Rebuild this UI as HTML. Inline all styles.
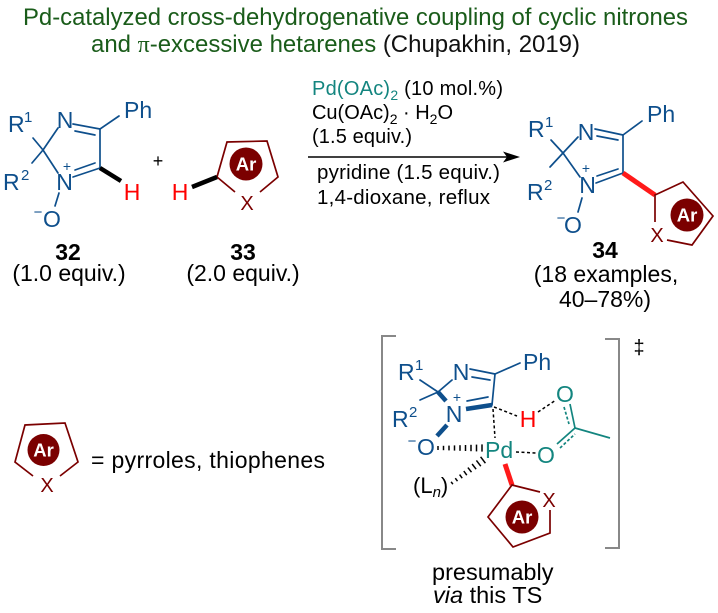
<!DOCTYPE html>
<html><head><meta charset="utf-8"><style>
body{margin:0;background:#fff}
svg{display:block}
text{font-family:"Liberation Sans",Arial,sans-serif}
</style></head><body>
<svg width="718" height="613" viewBox="0 0 718 613" xmlns="http://www.w3.org/2000/svg">
<!-- Title -->
<text x="23" y="25" font-size="24" fill="#1a5c1a" textLength="665" lengthAdjust="spacingAndGlyphs">Pd-catalyzed cross-dehydrogenative coupling of cyclic nitrones</text>
<text x="91" y="52" font-size="24" textLength="489" lengthAdjust="spacingAndGlyphs"><tspan fill="#1a5c1a">and </tspan><tspan fill="#1a5c1a" font-family="Liberation Serif">π</tspan><tspan fill="#1a5c1a">-excessive hetarenes </tspan><tspan fill="#111">(Chupakhin, 2019)</tspan></text>

<!-- Structure 32 -->
<g stroke="#0e4f8c" stroke-width="1.7" fill="none" stroke-linecap="round">
<line x1="43" y1="150" x2="58" y2="128"/>
<line x1="73" y1="124" x2="100" y2="129"/>
<line x1="75" y1="131" x2="95" y2="135"/>
<line x1="100" y1="129" x2="100" y2="168"/>
<line x1="73" y1="177" x2="100" y2="168"/>
<line x1="75" y1="170" x2="95" y2="163"/>
<line x1="58" y1="173" x2="43" y2="150"/>
<line x1="43" y1="150" x2="33" y2="138"/>
<line x1="43" y1="150" x2="32" y2="163"/>
<line x1="100" y1="129" x2="119" y2="116"/>
<line x1="59" y1="193" x2="55" y2="206"/>
</g>
<line x1="100" y1="168" x2="121" y2="181" stroke="#000" stroke-width="4.5"/>
<g fill="#0e4f8c" font-size="23">
<text x="8" y="132">R</text><text x="24" y="122" font-size="15">1</text>
<text x="3" y="190">R</text><text x="21" y="180" font-size="15">2</text>
<text x="65" y="128" text-anchor="middle">N</text>
<text x="124" y="118">Ph</text>
<text x="64.5" y="190" text-anchor="middle">N</text>
<text x="67" y="171" font-size="14" text-anchor="middle">+</text>
<text x="52" y="227" text-anchor="middle">O</text>
<text x="38" y="217" font-size="15" text-anchor="middle">−</text>
</g>
<text x="132" y="200" text-anchor="middle" fill="#ff0000" font-size="23">H</text>
<text x="158" y="167" text-anchor="middle" font-size="18">+</text>

<!-- Structure 33 -->
<path d="M235,192 L217,177 L227,142 L267,141 L278,177 L260,192" stroke="#7b0000" stroke-width="1.7" fill="none"/>
<circle cx="246" cy="164" r="16.5" fill="#7b0000"/>
<text x="246" y="170.5" text-anchor="middle" fill="#fff" font-size="18.5" font-weight="bold">Ar</text>
<text x="247" y="210" text-anchor="middle" fill="#7b0000" font-size="20">X</text>
<text x="180" y="200" text-anchor="middle" fill="#ff0000" font-size="23">H</text>
<line x1="192" y1="187" x2="217" y2="177" stroke="#000" stroke-width="4.5"/>

<text x="68" y="260" text-anchor="middle" font-weight="bold" font-size="23">32</text>
<text x="69" y="281" text-anchor="middle" font-size="23">(1.0 equiv.)</text>
<text x="243" y="260" text-anchor="middle" font-weight="bold" font-size="23">33</text>
<text x="243" y="281" text-anchor="middle" font-size="23">(2.0 equiv.)</text>

<!-- Conditions -->
<text x="312" y="95" font-size="20" textLength="191"><tspan fill="#13857f">Pd(OAc)</tspan><tspan fill="#13857f" font-size="14" dy="5">2</tspan><tspan dy="-5"> (10 mol.%)</tspan></text>
<text x="312" y="119" font-size="20" textLength="141">Cu(OAc)<tspan font-size="14" dy="5">2</tspan><tspan dy="-5"> · H</tspan><tspan font-size="14" dy="5">2</tspan><tspan dy="-5">O</tspan></text>
<text x="312" y="143" font-size="20" textLength="100">(1.5 equiv.)</text>
<line x1="308" y1="157" x2="508" y2="157" stroke="#000" stroke-width="1.4"/>
<polygon points="520,157 503,151.5 507,157 503,162.5" fill="#000"/>
<text x="317" y="179" font-size="20.5" textLength="183">pyridine (1.5 equiv.)</text>
<text x="317" y="204" font-size="20.5" textLength="173">1,4-dioxane, reflux</text>

<!-- Product 34 -->
<g stroke="#0e4f8c" stroke-width="1.7" fill="none" stroke-linecap="round">
<line x1="563" y1="153" x2="578" y2="137"/>
<line x1="595" y1="129" x2="623" y2="135"/>
<line x1="597" y1="136" x2="618" y2="140"/>
<line x1="623" y1="135" x2="623" y2="173"/>
<line x1="596" y1="183" x2="623" y2="173"/>
<line x1="597" y1="176" x2="618" y2="169"/>
<line x1="580" y1="177" x2="563" y2="153"/>
<line x1="563" y1="153" x2="551" y2="140"/>
<line x1="563" y1="153" x2="550" y2="167"/>
<line x1="623" y1="135" x2="642" y2="121"/>
<line x1="582" y1="198" x2="578" y2="212"/>
</g>
<line x1="623" y1="173" x2="655" y2="195" stroke="#ff1a1a" stroke-width="5"/>
<path d="M655,222 L655,195 L683,182 L713,216 L692,245 L667,240" stroke="#7b0000" stroke-width="1.7" fill="none"/>
<circle cx="687" cy="215" r="16.5" fill="#7b0000"/>
<text x="687" y="221.5" text-anchor="middle" fill="#fff" font-size="18.5" font-weight="bold">Ar</text>
<text x="657" y="242" text-anchor="middle" fill="#7b0000" font-size="20">X</text>
<g fill="#0e4f8c" font-size="23">
<text x="528" y="137">R</text><text x="545" y="127" font-size="15">1</text>
<text x="527" y="200">R</text><text x="544" y="190" font-size="15">2</text>
<text x="586" y="140" text-anchor="middle">N</text>
<text x="647" y="122">Ph</text>
<text x="587.5" y="193" text-anchor="middle">N</text>
<text x="586" y="173" font-size="14" text-anchor="middle">+</text>
<text x="573" y="233" text-anchor="middle">O</text>
<text x="561" y="223" font-size="15" text-anchor="middle">−</text>
</g>
<text x="605" y="258" text-anchor="middle" font-weight="bold" font-size="23">34</text>
<text x="606" y="282" text-anchor="middle" font-size="23">(18 examples,</text>
<text x="605" y="307" text-anchor="middle" font-size="23">40–78%)</text>

<!-- Legend -->
<path d="M33,476 L15,462 L25,425 L65,423 L78,462 L60,476" stroke="#7b0000" stroke-width="1.7" fill="none"/>
<circle cx="43.5" cy="450" r="16" fill="#7b0000"/>
<text x="43.5" y="456.5" text-anchor="middle" fill="#fff" font-size="18.5" font-weight="bold">Ar</text>
<text x="47" y="492" text-anchor="middle" fill="#7b0000" font-size="20">X</text>
<text x="91" y="468" font-size="23" textLength="234">= pyrroles, thiophenes</text>

<!-- TS brackets -->
<path d="M396,336 L382,336 L382,549 L396,549" stroke="#888" stroke-width="2" fill="none"/>
<path d="M605,339 L619,339 L619,548 L605,548" stroke="#888" stroke-width="2" fill="none"/>
<text x="639" y="354" text-anchor="middle" font-size="20">‡</text>

<!-- TS ring -->
<g stroke="#0e4f8c" stroke-width="1.7" fill="none" stroke-linecap="round">
<line x1="420" y1="380" x2="438" y2="392"/>
<line x1="438" y1="392" x2="420" y2="400"/>
<line x1="438" y1="392" x2="452" y2="380"/>
<line x1="470" y1="369" x2="495" y2="374"/>
<line x1="472" y1="377" x2="490" y2="380"/>
<line x1="495" y1="374" x2="492" y2="405"/>
<line x1="495" y1="374" x2="520" y2="363"/>
<line x1="467" y1="401" x2="488" y2="397"/>
</g>
<g stroke="#0e4f8c" stroke-width="4.5" stroke-linecap="butt">
<line x1="438" y1="392" x2="446" y2="401"/>
<line x1="466" y1="409" x2="492" y2="405"/>
<line x1="447" y1="425" x2="437" y2="436"/>
</g>
<g fill="#0e4f8c" font-size="23">
<text x="398" y="380">R</text><text x="415" y="370" font-size="15">1</text>
<text x="392" y="427">R</text><text x="409" y="417" font-size="15">2</text>
<text x="461" y="380" text-anchor="middle">N</text>
<text x="523" y="370">Ph</text>
<text x="454" y="422" text-anchor="middle">N</text>
<text x="457" y="402" font-size="14" text-anchor="middle">+</text>
<text x="426" y="455" text-anchor="middle">O</text>
<text x="412" y="446" font-size="15" text-anchor="middle">−</text>
</g>
<!-- hashed O...Pd -->
<g stroke="#000" stroke-width="1.5">
<line x1="438" y1="446" x2="438" y2="450"/>
<line x1="443.5" y1="445.8" x2="443.5" y2="450.2"/>
<line x1="449" y1="445.6" x2="449" y2="450.4"/>
<line x1="454.5" y1="445.4" x2="454.5" y2="450.6"/>
<line x1="460" y1="445.2" x2="460" y2="450.8"/>
<line x1="465.5" y1="445" x2="465.5" y2="451"/>
<line x1="471" y1="444.8" x2="471" y2="451.2"/>
<line x1="476.5" y1="444.6" x2="476.5" y2="451.4"/>
<line x1="482" y1="444.4" x2="482" y2="451.6"/>
</g>
<!-- hashed Ln...Pd -->
<g stroke="#000" stroke-width="1.5">
<line x1="451.1" y1="481.8" x2="452.9" y2="484.2"/>
<line x1="455.3" y1="478.2" x2="457.5" y2="481.2"/>
<line x1="459.6" y1="474.6" x2="462.2" y2="478.2"/>
<line x1="463.8" y1="471.0" x2="466.8" y2="475.2"/>
<line x1="467.9" y1="467.6" x2="471.5" y2="472.2"/>
<line x1="472.1" y1="464.0" x2="476.1" y2="469.2"/>
<line x1="476.4" y1="460.4" x2="480.8" y2="466.2"/>
<line x1="480.6" y1="456.8" x2="485.4" y2="463.2"/>
</g>
<!-- dashed interactions -->
<g stroke="#000" stroke-width="1.5" stroke-dasharray="3 2.5" fill="none">
<line x1="493" y1="409" x2="495" y2="438"/>
<line x1="494" y1="407" x2="517" y2="416"/>
<line x1="538" y1="412" x2="556" y2="400"/>
<line x1="516" y1="452" x2="536" y2="453"/>
</g>
<text x="528" y="427" text-anchor="middle" fill="#ff0000" font-size="23">H</text>
<!-- acetate -->
<g stroke="#13857f" stroke-width="1.7" fill="none">
<line x1="570" y1="404" x2="575" y2="428"/>
<line x1="564" y1="407" x2="569" y2="424" stroke-dasharray="3 2"/>
<line x1="575" y1="428" x2="610" y2="438"/>
<line x1="557" y1="444" x2="575" y2="428"/>
<line x1="560" y1="448" x2="575" y2="434" stroke-dasharray="3 2"/>
</g>
<g fill="#13857f" font-size="23">
<text x="565" y="402" text-anchor="middle">O</text>
<text x="546" y="463" text-anchor="middle">O</text>
<text x="485" y="458">Pd</text>
</g>
<text x="413" y="493" font-size="22">(L<tspan font-size="15" font-style="italic" dy="4">n</tspan><tspan dy="-4">)</tspan></text>
<!-- aryl on Pd -->
<line x1="505" y1="464" x2="512" y2="485" stroke="#ff1a1a" stroke-width="5"/>
<path d="M540,492 L512,485 L488,517 L513,547 L550,533 L550,510" stroke="#7b0000" stroke-width="1.7" fill="none"/>
<circle cx="522" cy="517" r="16.5" fill="#7b0000"/>
<text x="522" y="523.5" text-anchor="middle" fill="#fff" font-size="18.5" font-weight="bold">Ar</text>
<text x="549" y="507" text-anchor="middle" fill="#7b0000" font-size="20">X</text>

<text x="432" y="580" font-size="23.5">presumably</text>
<text x="433" y="603" font-size="23.5"><tspan font-style="italic">via</tspan> this TS</text>
</svg>
</body></html>
